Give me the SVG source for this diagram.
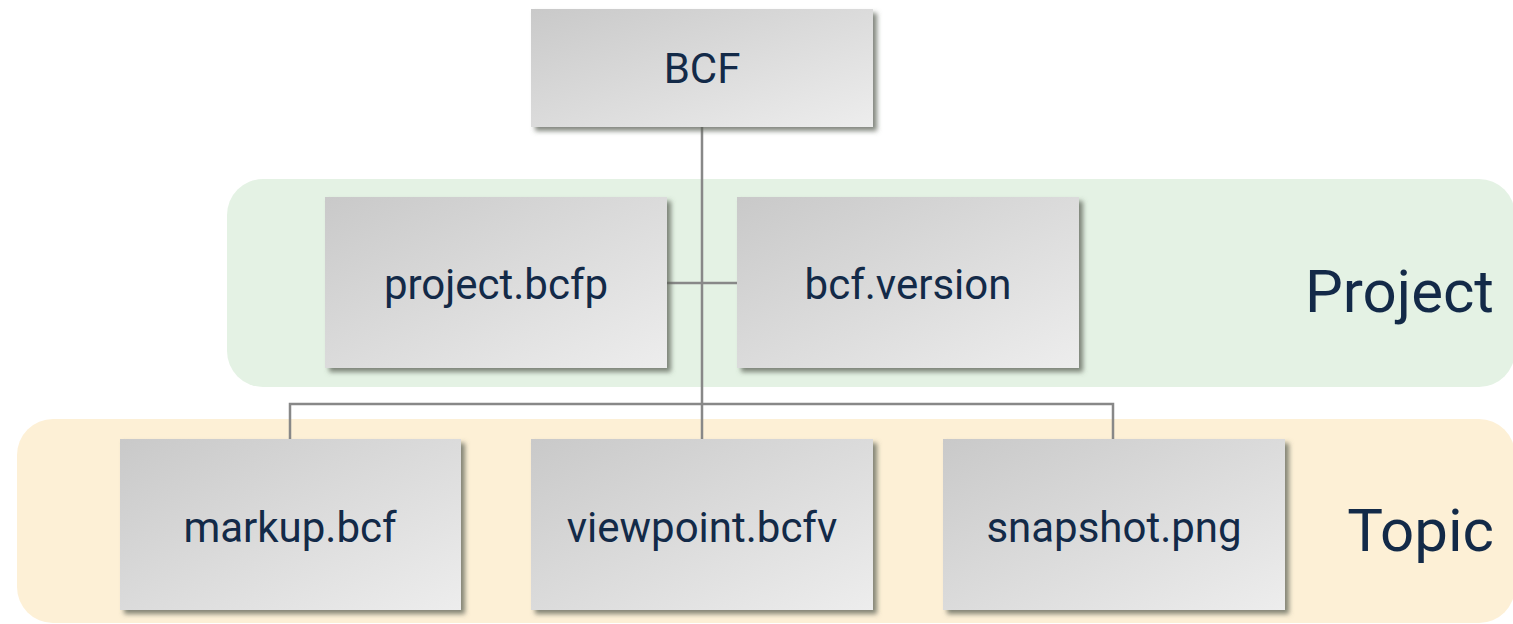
<svg xmlns="http://www.w3.org/2000/svg" width="1513" height="624" viewBox="0 0 1513 624">
<defs>
<linearGradient id="g" x1="0" y1="0" x2="1" y2="1">
<stop offset="0" stop-color="#c9c9c9"/>
<stop offset="1" stop-color="#ededed"/>
</linearGradient>
<filter id="sh" x="-10%" y="-10%" width="125%" height="130%">
<feDropShadow dx="4" dy="4" stdDeviation="2.5" flood-color="#5a5f55" flood-opacity="0.75"/>
</filter>
<style>
.box{fill:url(#g);filter:url(#sh)}
.lbl{font-family:Roboto,"Liberation Sans",sans-serif;font-size:42px;fill:#132a48;text-anchor:middle}
.grp{font-family:Roboto,"Liberation Sans",sans-serif;font-size:60px;fill:#132a48;text-anchor:end}
.con{stroke:#888;stroke-width:2.5;fill:none}
</style>
</defs>
<rect x="0" y="0" width="1513" height="624" fill="#fff"/>
<g id="group-project">
<rect x="227" y="179" width="1288" height="208" rx="36" fill="#e4f2e4"/>
<text class="grp" x="1494" y="312">Project</text>
</g>
<g id="group-topic">
<rect x="17" y="419" width="1498" height="204" rx="36" fill="#fdf0d6"/>
<text class="grp" x="1494" y="551">Topic</text>
</g>
<g id="connectors">
<line class="con" x1="702" y1="127" x2="702" y2="439"/>
<line class="con" x1="667" y1="283" x2="737" y2="283"/>
<polyline class="con" points="290,439 290,404 1113,404 1113,439"/>
</g>
<g id="node-bcf">
<rect class="box" x="531" y="9" width="342" height="118"/>
<text class="lbl" x="702" y="83">BCF</text>
</g>
<g id="node-project">
<rect class="box" x="325" y="197" width="342" height="171"/>
<text class="lbl" x="496" y="299">project.bcfp</text>
</g>
<g id="node-version">
<rect class="box" x="737" y="197" width="342" height="171"/>
<text class="lbl" x="908" y="299">bcf.version</text>
</g>
<g id="node-markup">
<rect class="box" x="120" y="439" width="341" height="171"/>
<text class="lbl" x="290" y="542">markup.bcf</text>
</g>
<g id="node-viewpoint">
<rect class="box" x="531" y="439" width="342" height="171"/>
<text class="lbl" x="702" y="542">viewpoint.bcfv</text>
</g>
<g id="node-snapshot">
<rect class="box" x="943" y="439" width="342" height="171"/>
<text class="lbl" x="1114" y="542">snapshot.png</text>
</g>
</svg>
